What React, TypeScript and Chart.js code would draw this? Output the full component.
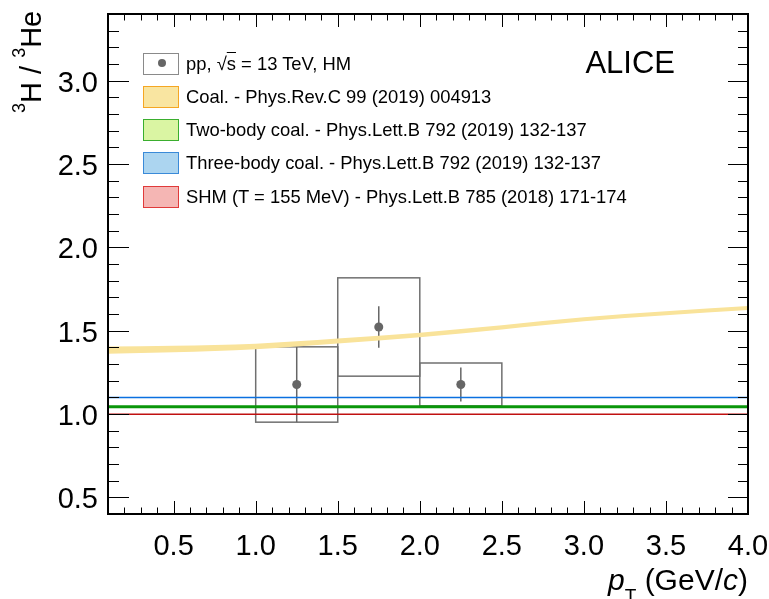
import React, { useEffect, useRef } from "react";
import { Chart, registerables } from "chart.js";

Chart.register(...registerables);

// ---------------- data ----------------
const ptCenters = [1.25, 1.75, 2.25];
const ptBinLow = [1.0, 1.5, 2.0];
const ptBinHigh = [1.5, 2.0, 2.5];
const ratioValues = [1.177, 1.522, 1.177];
const statErrors = [0.226, 0.125, 0.102];
const sysErrors = [0.226, 0.295, 0.129];

const coalPt = [0.1, 0.5, 1.0, 1.5, 2.0, 2.5, 3.0, 3.5, 4.0];
const coalCentral = [1.383, 1.39, 1.405, 1.438, 1.474, 1.52, 1.568, 1.604, 1.636];
const coalHalfWidth = [0.022, 0.02, 0.017, 0.015, 0.014, 0.013, 0.012, 0.012, 0.012];

const twoBodyValue = 1.043;
const threeBodyValue = 1.099;
const shmValue = 0.998;

const xRange = [0.1, 4.0];
const yRange = [0.4, 3.4];
const xTickValues = [0.5, 1.0, 1.5, 2.0, 2.5, 3.0, 3.5, 4.0];
const yTickValues = [0.5, 1.0, 1.5, 2.0, 2.5, 3.0];

const legendLabels = [
  "pp, √s = 13 TeV, HM",
  "Coal. - Phys.Rev.C 99 (2019) 004913",
  "Two-body coal. - Phys.Lett.B 792 (2019) 132-137",
  "Three-body coal. - Phys.Lett.B 792 (2019) 132-137",
  "SHM (T = 155 MeV) - Phys.Lett.B 785 (2018) 171-174",
];

// ---------------- styles ----------------
const FONT = '"Liberation Sans", Arial, Helvetica, sans-serif';
const legendFills = ["#ffffff", "#f9e5a1", "#daf5a3", "#acd5f0", "#f5b6b4"];
const legendBorders = ["#8a8a8a", "#f5a623", "#3aae2e", "#3a8ad8", "#e03a3a"];
const dataColor = "#666666";
const boxColor = "#707070";

const rootFramePlugin = {
  id: "rootFrame",
  beforeDatasetsDraw(chart: any) {
    const { ctx, scales } = chart;
    const x = scales.x;
    const y = scales.y;
    ctx.save();
    // systematic boxes
    ctx.strokeStyle = boxColor;
    ctx.lineWidth = 1.5;
    for (let i = 0; i < ptCenters.length; i++) {
      const x0 = x.getPixelForValue(ptBinLow[i]);
      const x1 = x.getPixelForValue(ptBinHigh[i]);
      const y0 = y.getPixelForValue(ratioValues[i] + sysErrors[i]);
      const y1 = y.getPixelForValue(ratioValues[i] - sysErrors[i]);
      ctx.strokeRect(x0, y0, x1 - x0, y1 - y0);
    }
    // statistical error bars
    ctx.strokeStyle = dataColor;
    ctx.lineWidth = 1.5;
    for (let i = 0; i < ptCenters.length; i++) {
      const px = x.getPixelForValue(ptCenters[i]);
      ctx.beginPath();
      ctx.moveTo(px, y.getPixelForValue(ratioValues[i] + statErrors[i]));
      ctx.lineTo(px, y.getPixelForValue(ratioValues[i] - statErrors[i]));
      ctx.stroke();
    }
    ctx.restore();
  },
  afterDatasetsDraw(chart: any) {
    const { ctx, chartArea: a, scales } = chart;
    const x = scales.x;
    const y = scales.y;
    ctx.save();
    ctx.strokeStyle = "#000";
    ctx.lineWidth = 1;
    const seg = (x0: number, y0: number, x1: number, y1: number) => {
      ctx.beginPath();
      ctx.moveTo(x0, y0);
      ctx.lineTo(x1, y1);
      ctx.stroke();
    };
    // x ticks (inward, bottom and top)
    for (let i = Math.round(xRange[0] * 10); i <= Math.round(xRange[1] * 10); i++) {
      const px = Math.round(x.getPixelForValue(i / 10)) + 0.5;
      const len = i % 5 === 0 ? 13 : 6.5;
      seg(px, a.bottom, px, a.bottom - len);
      seg(px, a.top, px, a.top + len);
    }
    // y ticks (inward, left and right)
    for (let i = Math.round(yRange[0] * 10); i <= Math.round(yRange[1] * 10); i++) {
      const py = Math.round(y.getPixelForValue(i / 10)) + 0.5;
      const major = i % 5 === 0;
      seg(a.left, py, a.left + (major ? 21 : 11), py);
      seg(a.right, py, a.right - (major ? 20 : 10), py);
    }
    ctx.lineWidth = 2;
    ctx.strokeRect(a.left, a.top, a.right - a.left, a.bottom - a.top);
    ctx.restore();
  },
};

function ChartCanvas() {
  const ref = useRef<HTMLCanvasElement | null>(null);
  useEffect(() => {
    if (!ref.current) return;
    const hline = (v: number) => [
      { x: xRange[0], y: v },
      { x: xRange[1], y: v },
    ];
    const chart = new Chart(ref.current, {
      type: "scatter",
      data: {
        datasets: [
          {
            type: "scatter",
            label: "data",
            data: ptCenters.map((p, i) => ({ x: p, y: ratioValues[i] })),
            backgroundColor: dataColor,
            borderWidth: 0,
            pointRadius: 4.5,
          },
          {
            type: "line",
            label: "two-body",
            data: hline(twoBodyValue),
            borderColor: "#0a960a",
            borderWidth: 3,
            pointRadius: 0,
            fill: false,
          },
          {
            type: "line",
            label: "three-body",
            data: hline(threeBodyValue),
            borderColor: "#0a70e0",
            borderWidth: 1.5,
            pointRadius: 0,
            fill: false,
          },
          {
            type: "line",
            label: "SHM",
            data: hline(shmValue),
            borderColor: "#c01010",
            borderWidth: 1.5,
            pointRadius: 0,
            fill: false,
          },
          {
            type: "line",
            label: "coal-up",
            data: coalPt.map((p, i) => ({ x: p, y: coalCentral[i] + coalHalfWidth[i] })),
            borderWidth: 0,
            borderColor: "rgba(0,0,0,0)",
            pointRadius: 0,
            cubicInterpolationMode: "monotone",
            fill: false,
          },
          {
            type: "line",
            label: "coal-low",
            data: coalPt.map((p, i) => ({ x: p, y: coalCentral[i] - coalHalfWidth[i] })),
            borderWidth: 0,
            borderColor: "rgba(0,0,0,0)",
            backgroundColor: "#f9e39a",
            pointRadius: 0,
            cubicInterpolationMode: "monotone",
            fill: "-1",
          },
        ] as any,
      },
      options: {
        animation: false,
        responsive: false,
        devicePixelRatio: 1,
        layout: { padding: { top: 14, right: 21, left: 0, bottom: 0 } },
        plugins: {
          legend: { display: false },
          tooltip: { enabled: false },
        },
        scales: {
          x: {
            type: "linear",
            min: xRange[0],
            max: xRange[1],
            afterBuildTicks: (s: any) => {
              s.ticks = xTickValues.map((v) => ({ value: v }));
            },
            afterFit: (s: any) => {
              s.height = 85;
              s.paddingLeft = 0;
              s.paddingRight = 0;
            },
            grid: { display: false, drawTicks: false },
            border: { display: false },
            ticks: {
              color: "#000",
              font: { family: FONT, size: 29 },
              padding: 16,
              maxRotation: 0,
              autoSkip: false,
              callback: (v: any) => Number(v).toFixed(1),
            },
          },
          y: {
            type: "linear",
            min: yRange[0],
            max: yRange[1],
            afterBuildTicks: (s: any) => {
              s.ticks = yTickValues.map((v) => ({ value: v }));
            },
            afterFit: (s: any) => {
              s.width = 108;
              s.paddingTop = 0;
              s.paddingBottom = 0;
            },
            grid: { display: false, drawTicks: false },
            border: { display: false },
            ticks: {
              color: "#000",
              font: { family: FONT, size: 29 },
              padding: 10,
              labelOffset: 3,
              autoSkip: false,
              callback: (v: any) => Number(v).toFixed(1),
            },
          },
        },
      } as any,
      plugins: [rootFramePlugin],
    });
    return () => chart.destroy();
  }, []);
  return (
    <canvas
      ref={ref}
      width={769}
      height={599}
      style={{ position: "absolute", left: 0, top: 0, width: 769, height: 599 }}
    />
  );
}

function LegendLabel({ text }: { text: string }) {
  if (text.includes("√s")) {
    const [a, b] = text.split("√s");
    return (
      <span>
        {a}
        <span>√</span>
        <span style={{ textDecoration: "overline" }}>s</span>
        {b}
      </span>
    );
  }
  return <span>{text}</span>;
}

export default function App() {
  const rowCenters0 = 63.7;
  const rowStep = 33.25;
  return (
    <div
      style={{
        position: "fixed",
        left: 0,
        top: 0,
        width: 769,
        height: 599,
        background: "#fff",
        fontFamily: FONT,
        color: "#000",
        overflow: "hidden",
      }}
    >
      <ChartCanvas />
      {legendLabels.map((lab, i) => {
        const top = rowCenters0 + i * rowStep - 11;
        return (
          <div key={i} style={{ position: "absolute", left: 143, top, height: 22, whiteSpace: "nowrap" }}>
            <div
              style={{
                position: "absolute",
                left: 0,
                top: 0,
                width: 36,
                height: 22,
                boxSizing: "border-box",
                border: `1.5px solid ${legendBorders[i]}`,
                background: legendFills[i],
              }}
            >
              {i === 0 && (
                <div
                  style={{
                    position: "absolute",
                    left: 13.5,
                    top: 5.5,
                    width: 8,
                    height: 8,
                    borderRadius: 4,
                    background: dataColor,
                  }}
                />
              )}
            </div>
            <div style={{ position: "absolute", left: 43, top: 0, fontSize: 18.4, lineHeight: "22px" }}>
              <LegendLabel text={lab} />
            </div>
          </div>
        );
      })}
      <div
        style={{
          position: "absolute",
          right: 94,
          top: 46.8,
          fontSize: 31,
          lineHeight: "31px",
          whiteSpace: "nowrap",
        }}
      >
        ALICE
      </div>
      {/* y axis title */}
      <div
        style={{
          position: "absolute",
          left: 17,
          top: 113,
          transformOrigin: "0 0",
          transform: "rotate(-90deg)",
          fontSize: 29,
          lineHeight: "29px",
          whiteSpace: "nowrap",
        }}
      >
        <span style={{ fontSize: 18, position: "relative", top: -16 }}>3</span>H /{" "}
        <span style={{ fontSize: 18, position: "relative", top: -16 }}>3</span>He
      </div>
      {/* x axis title */}
      <div
        style={{
          position: "absolute",
          right: 21,
          top: 564.6,
          fontSize: 30,
          lineHeight: "30px",
          whiteSpace: "nowrap",
        }}
      >
        <i>p</i>
        <span style={{ fontSize: 19, position: "relative", top: 12 }}>T</span> (GeV/<i>c</i>)
      </div>
    </div>
  );
}
